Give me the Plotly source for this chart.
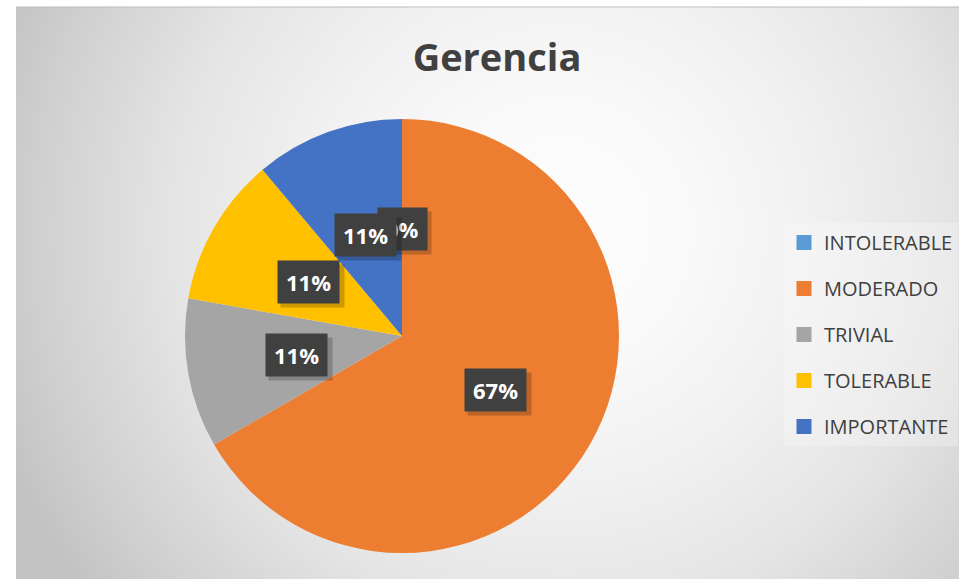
import base64
import math

import plotly.graph_objects as go

TITLE = "Gerencia"
CATEGORIES = ["INTOLERABLE", "MODERADO", "TRIVIAL", "TOLERABLE", "IMPORTANTE"]
COUNTS = [0, 6, 1, 1, 1]
COLORS = ["#5B9BD5", "#ED7D31", "#A5A5A5", "#FFC000", "#4472C4"]

W, H = 959, 579
PIE_CX, PIE_CY, PIE_R = 402, 336, 217  # pixels
LABEL_FRAC = 0.495
TEXT_COLOR = "#404040"
FONT = "Open Sans"
BG_LEFT, BG_TOP = 16, 7


def px_x(x):
    return x / W


def px_y(y):
    return 1 - y / H


# radial grey background like the Excel chart area
bw, bh = W - BG_LEFT, H - BG_TOP
svg = (
    f'<svg xmlns="http://www.w3.org/2000/svg" width="{bw}" height="{bh}" '
    f'viewBox="0 0 {bw} {bh}" preserveAspectRatio="none">'
    '<defs><radialGradient id="g" gradientUnits="userSpaceOnUse" '
    f'cx="{560 - BG_LEFT}" cy="{230 - BG_TOP}" r="600">'
    '<stop offset="0" stop-color="#fdfdfd"/>'
    '<stop offset="0.2" stop-color="#fafafa"/>'
    '<stop offset="0.42" stop-color="#f1f1f1"/>'
    '<stop offset="0.64" stop-color="#e5e5e5"/>'
    '<stop offset="0.88" stop-color="#cfcfcf"/>'
    '<stop offset="1" stop-color="#c2c2c2"/>'
    "</radialGradient></defs>"
    f'<rect x="0" y="0" width="{bw}" height="{bh}" fill="url(#g)"/></svg>'
)
bg_src = "data:image/svg+xml;base64," + base64.b64encode(svg.encode()).decode()

fig = go.Figure()

fig.add_trace(
    go.Pie(
        labels=CATEGORIES,
        values=COUNTS,
        sort=False,
        direction="clockwise",
        rotation=0,
        marker={"colors": COLORS, "line": {"width": 0}},
        textinfo="none",
        showlegend=False,
        domain={
            "x": [px_x(PIE_CX - PIE_R), px_x(PIE_CX + PIE_R)],
            "y": [px_y(PIE_CY + PIE_R), px_y(PIE_CY - PIE_R)],
        },
    )
)

# legend entries (separate traces so the spacing can follow the original)
for name, color in zip(CATEGORIES, COLORS):
    fig.add_trace(
        go.Scatter(
            x=[None],
            y=[None],
            mode="markers",
            name=name,
            legendgroup=name,
            marker={"symbol": "square", "size": 15, "color": color},
            hoverinfo="skip",
        )
    )

# data labels: dark boxes at half radius, on each slice's mid angle
total = sum(COUNTS)
cum = 0
annotations = []
for value in COUNTS:
    mid = 2 * math.pi * (cum + value / 2) / total
    cum += value
    lx = PIE_CX + PIE_R * LABEL_FRAC * math.sin(mid)
    ly = PIE_CY - PIE_R * LABEL_FRAC * math.cos(mid)
    text = f"{round(100 * value / total)}%"
    common = dict(
        x=px_x(lx),
        y=px_y(ly),
        xref="paper",
        yref="paper",
        showarrow=False,
        xanchor="center",
        yanchor="middle",
        borderpad=8,
        height=26,
    )
    # soft drop shadow behind the box
    annotations.append(
        dict(
            common,
            text=" ",
            width=13 * (len(text) - 1) + 21,
            bgcolor="rgba(0,0,0,0.2)",
            xshift=4,
            yshift=-4,
        )
    )
    annotations.append(
        dict(
            common,
            text=text,
            bgcolor="#404040",
            font={"family": FONT, "size": 22, "color": "white", "weight": "bold"},
        )
    )

fig.update_layout(
    width=W,
    height=H,
    margin={"l": 0, "r": 0, "t": 0, "b": 0, "autoexpand": False},
    paper_bgcolor="white",
    plot_bgcolor="rgba(0,0,0,0)",
    xaxis={"visible": False},
    yaxis={"visible": False},
    title={
        "text": TITLE,
        "x": px_x(497),
        "y": px_y(58),
        "xanchor": "center",
        "yanchor": "middle",
        "font": {"family": FONT, "size": 38, "color": TEXT_COLOR, "weight": "bold"},
    },
    legend={
        "x": px_x(784),
        "y": px_y(223),
        "xanchor": "left",
        "yanchor": "top",
        "bgcolor": "rgba(255,255,255,0.25)",
        "font": {"family": FONT, "size": 20, "color": TEXT_COLOR},
        "tracegroupgap": 17,
        "traceorder": "grouped",
    },
    annotations=annotations,
    images=[
        dict(
            source=bg_src,
            xref="paper",
            yref="paper",
            x=px_x(BG_LEFT),
            y=px_y(BG_TOP),
            sizex=1 - px_x(BG_LEFT),
            sizey=px_y(BG_TOP),
            xanchor="left",
            yanchor="top",
            sizing="stretch",
            layer="below",
        )
    ],
    shapes=[
        dict(
            type="line",
            xref="paper",
            yref="paper",
            x0=px_x(BG_LEFT),
            x1=1,
            y0=px_y(BG_TOP),
            y1=px_y(BG_TOP),
            line={"color": "#bdbdbd", "width": 1},
            layer="below",
        )
    ],
)

fig.write_html(
    "out.html",
    config={"displayModeBar": False},
    post_script="document.body.style.margin='0';",
)
